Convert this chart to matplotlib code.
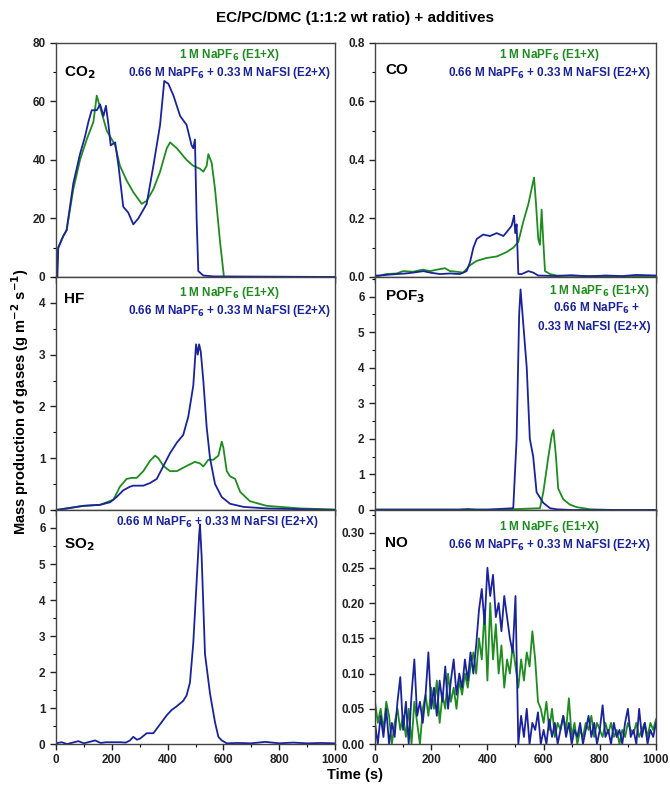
import numpy as np
import matplotlib
matplotlib.use('Agg')
import matplotlib.pyplot as plt
from matplotlib.ticker import MultipleLocator, FormatStrFormatter

plt.rcParams['font.family'] = ['Liberation Sans', 'DejaVu Sans']
plt.rcParams['font.weight'] = 'bold'

GREEN = '#1E8C1E'
BLUE = '#1A239C'

# ---- data (time in s, value) ----
co2_e1_t = [0, 8, 26, 38, 62, 86, 110, 134, 146, 158, 182, 212, 229, 253, 277, 307, 325, 349, 373, 397, 409, 433, 468, 492, 516, 528, 540, 546, 558, 570, 588, 602, 1000]
co2_e1_v = [0, 10, 14, 16, 30, 40, 47, 53, 62, 58, 50, 45, 38, 33, 29, 25, 26, 30, 36, 44, 46, 44, 40, 38, 37, 36, 38, 42, 39, 30, 12, 0, 0]
co2_e2_t = [0, 5, 8, 26, 38, 62, 86, 104, 116, 128, 146, 158, 170, 179, 188, 196, 212, 224, 241, 259, 277, 295, 325, 349, 373, 388, 403, 421, 445, 468, 486, 492, 498, 504, 510, 528, 564, 1000]
co2_e2_v = [0, 0, 10, 14, 16, 32, 42, 48, 53, 57, 57, 59, 55, 58.5, 52, 45, 46, 38, 24, 22, 18, 20, 25, 38, 52, 67, 66, 62, 55, 52, 45, 44, 47, 20, 2, 0.5, 0.2, 0]

co_e1_t = [0, 18, 40, 77, 100, 136, 170, 196, 220, 249, 267, 290, 314, 338, 362, 397, 433, 468, 492, 510, 528, 546, 557, 566, 573, 581, 587, 593, 599, 605, 623, 646, 700, 800, 900, 1000]
co_e1_v = [0.0, 0.005, 0.01, 0.012, 0.02, 0.018, 0.025, 0.02, 0.025, 0.03, 0.02, 0.018, 0.015, 0.04, 0.055, 0.065, 0.07, 0.085, 0.1, 0.12, 0.19, 0.25, 0.3, 0.34, 0.25, 0.13, 0.11, 0.23, 0.12, 0.02, 0.01, 0.005, 0.004, 0.003, 0.002, 0.002]
co_e2_t = [0, 18, 50, 77, 110, 136, 172, 196, 231, 267, 302, 326, 338, 350, 362, 385, 409, 433, 457, 474, 486, 490, 495, 499, 504, 510, 522, 546, 563, 581, 650, 700, 760, 820, 880, 930, 1000]
co_e2_v = [0.005, 0.005, 0.008, 0.01, 0.012, 0.015, 0.02, 0.015, 0.01, 0.012, 0.01, 0.02, 0.05, 0.1, 0.13, 0.145, 0.14, 0.15, 0.14, 0.16, 0.175, 0.19, 0.21, 0.15, 0.18, 0.01, 0.01, 0.02, 0.015, 0.005, 0.003, 0.006, 0.002, 0.005, 0.003, 0.007, 0.005]

hf_e1_t = [0, 38, 98, 158, 206, 229, 253, 271, 289, 313, 337, 355, 367, 385, 409, 433, 468, 498, 516, 528, 546, 564, 582, 594, 600, 612, 624, 642, 660, 695, 755, 875, 1000]
hf_e1_v = [0, 0.03, 0.08, 0.1, 0.2, 0.45, 0.6, 0.62, 0.62, 0.75, 0.95, 1.05, 1.0, 0.85, 0.75, 0.75, 0.85, 0.93, 0.9, 0.84, 0.97, 0.97, 1.05, 1.32, 1.2, 0.75, 0.65, 0.6, 0.35, 0.17, 0.08, 0.03, 0.01]
hf_e2_t = [0, 38, 98, 158, 194, 217, 241, 265, 277, 313, 337, 361, 385, 409, 433, 456, 474, 492, 502, 508, 513, 519, 528, 540, 552, 570, 594, 624, 672, 755, 1000]
hf_e2_v = [0, 0.03, 0.08, 0.1, 0.15, 0.25, 0.38, 0.45, 0.47, 0.47, 0.52, 0.6, 0.85, 1.1, 1.3, 1.45, 1.8, 2.4, 3.2, 3.0, 3.2, 3.05, 2.5, 1.6, 1.0, 0.5, 0.25, 0.12, 0.06, 0.03, 0.0]

pof3_e1_t = [0, 100, 200, 300, 330, 360, 450, 587, 599, 617, 629, 635, 644, 652, 670, 694, 718, 765, 850, 1000]
pof3_e1_v = [0.01, 0.01, 0.01, 0.01, 0.03, 0.01, 0.01, 0.05, 0.5, 1.5, 2.1, 2.25, 1.5, 0.6, 0.3, 0.15, 0.08, 0.02, 0.0, 0.0]
pof3_e2_t = [0, 100, 200, 300, 400, 492, 504, 513, 518, 525, 540, 551, 563, 575, 599, 623, 646, 700, 1000]
pof3_e2_v = [0.01, 0.01, 0.01, 0.01, 0.01, 0.05, 2.0, 5.5, 6.2, 5.5, 4.0, 2.0, 1.5, 0.5, 0.2, 0.05, 0.02, 0.0, 0.0]

so2_t = [0, 20, 40, 60, 80, 100, 120, 140, 160, 180, 200, 229, 250, 265, 277, 290, 301, 325, 349, 373, 397, 415, 433, 456, 468, 480, 492, 504, 513, 516, 522, 534, 552, 570, 582, 594, 612, 650, 700, 750, 800, 850, 900, 950, 1000]
so2_v = [0.02, 0.05, 0.0, 0.04, 0.08, 0.02, 0.06, 0.1, 0.03, 0.05, 0.05, 0.05, 0.04, 0.1, 0.2, 0.12, 0.15, 0.3, 0.3, 0.55, 0.8, 0.95, 1.05, 1.2, 1.35, 1.7, 2.8, 4.5, 5.8, 6.1, 5.2, 2.5, 1.4, 0.6, 0.2, 0.1, 0.02, 0.03, 0.02, 0.06, 0.02, 0.04, 0.02, 0.03, 0.02]

no_t = list(range(0, 1001, 10))
no_e1_v = [0.06, 0.03, 0.05, 0.02, 0.06, 0.04, 0.0, 0.03, 0.05, 0.02, 0.04, 0.01, 0.05, 0.0, 0.06, 0.03, 0.0, 0.05, 0.07, 0.04,
           0.08, 0.05, 0.09, 0.03, 0.07, 0.05, 0.1, 0.06, 0.08, 0.05, 0.09, 0.07, 0.1, 0.08, 0.11, 0.13, 0.1, 0.15, 0.12, 0.19,
           0.09, 0.2, 0.12, 0.17, 0.1, 0.14, 0.08, 0.12, 0.1, 0.14, 0.11, 0.08, 0.12, 0.09, 0.13, 0.11, 0.16, 0.12, 0.06, 0.05,
           0.03, 0.06, 0.02, 0.05, 0.01, 0.03, 0.02, 0.04, 0.02, 0.065, 0.01, 0.03, 0.0, 0.02, 0.01, 0.03, 0.02, 0.04, 0.01, 0.03,
           0.02, 0.01, 0.03, 0.015, 0.03, 0.01, 0.02, 0.0, 0.02, 0.01, 0.03, 0.02, 0.015, 0.03, 0.01, 0.02, 0.03, 0.01, 0.03, 0.02,
           0.035]
no_e2_v = [0.03, 0.0, 0.04, 0.01, 0.05, 0.0, 0.03, 0.01, 0.06, 0.095, 0.02, 0.06, 0.0, 0.07, 0.12, 0.04, 0.06, 0.03, 0.07, 0.13,
           0.05, 0.08, 0.04, 0.09, 0.06, 0.11, 0.05, 0.09, 0.12, 0.07, 0.1, 0.08, 0.12, 0.09, 0.13, 0.1, 0.14, 0.19, 0.22, 0.17,
           0.25, 0.21, 0.24, 0.18, 0.2, 0.16, 0.21, 0.18, 0.15, 0.13, 0.21, 0.0, 0.04, 0.01, 0.05, 0.0, 0.03, 0.02, 0.045, 0.0,
           0.02, 0.0, 0.035, 0.01, 0.03, 0.0, 0.02, 0.04, 0.01, 0.03, 0.0, 0.02, 0.01, 0.03, 0.0, 0.02, 0.04, 0.01, 0.03, 0.0,
           0.02, 0.055, 0.01, 0.02, 0.0, 0.03, 0.01, 0.02, 0.0, 0.03, 0.05, 0.01, 0.02, 0.0, 0.05, 0.01, 0.03, 0.0, 0.02, 0.01,
           0.03]

lbl_e1 = '1 M NaPF$_\\mathbf{6}$ (E1+X)'
lbl_e2 = '0.66 M NaPF$_\\mathbf{6}$ + 0.33 M NaFSI (E2+X)'

fig = plt.figure(figsize=(6.7, 7.88), dpi=100)
lx, lw = 0.0836, 0.4164
rx, rw = 0.5597, 0.4194
rows = [(0.6485, 0.297), (0.3528, 0.2957), (0.0558, 0.297)]

axs = {}
axs['co2'] = fig.add_axes([lx, rows[0][0], lw, rows[0][1]])
axs['co'] = fig.add_axes([rx, rows[0][0], rw, rows[0][1]])
axs['hf'] = fig.add_axes([lx, rows[1][0], lw, rows[1][1]])
axs['pof3'] = fig.add_axes([rx, rows[1][0], rw, rows[1][1]])
axs['so2'] = fig.add_axes([lx, rows[2][0], lw, rows[2][1]])
axs['no'] = fig.add_axes([rx, rows[2][0], rw, rows[2][1]])

lw_line = 1.3
axs['co2'].plot(co2_e1_t, co2_e1_v, color=GREEN, lw=lw_line)
axs['co2'].plot(co2_e2_t, co2_e2_v, color=BLUE, lw=lw_line)
axs['co'].plot(co_e1_t, co_e1_v, color=GREEN, lw=lw_line)
axs['co'].plot(co_e2_t, co_e2_v, color=BLUE, lw=lw_line)
axs['hf'].plot(hf_e1_t, hf_e1_v, color=GREEN, lw=lw_line)
axs['hf'].plot(hf_e2_t, hf_e2_v, color=BLUE, lw=lw_line)
axs['pof3'].plot(pof3_e1_t, pof3_e1_v, color=GREEN, lw=lw_line)
axs['pof3'].plot(pof3_e2_t, pof3_e2_v, color=BLUE, lw=lw_line)
axs['so2'].plot(so2_t, so2_v, color=BLUE, lw=lw_line)
axs['no'].plot(no_t, no_e1_v, color=GREEN, lw=lw_line)
axs['no'].plot(no_t, no_e2_v, color=BLUE, lw=lw_line)

# limits, ticks, formats
settings = {
    'co2': (80, 20, 10, '%d'),
    'co': (0.8, 0.2, 0.1, '%.1f'),
    'hf': (4.5, 1, 0.5, '%d'),
    'pof3': (6.55, 1, 0.5, '%d'),
    'so2': (6.5, 1, 0.5, '%d'),
    'no': (0.332, 0.05, 0.025, '%.2f'),
}
for key, ax in axs.items():
    top, maj, mnr, fmt = settings[key]
    ax.set_xlim(0, 1000)
    ax.set_ylim(0, top)
    ax.xaxis.set_major_locator(MultipleLocator(200))
    ax.xaxis.set_minor_locator(MultipleLocator(100))
    ax.yaxis.set_major_locator(MultipleLocator(maj))
    ax.yaxis.set_minor_locator(MultipleLocator(mnr))
    ax.yaxis.set_major_formatter(FormatStrFormatter(fmt))
    ax.tick_params(which='major', direction='out', length=4, width=1, labelsize=8.5, colors='#222222')
    ax.tick_params(which='minor', direction='out', length=2, width=0.8)
    for s in ax.spines.values():
        s.set_linewidth(1)
        s.set_color('#444444')
    for lab in ax.get_xticklabels() + ax.get_yticklabels():
        lab.set_fontweight('bold')
    if key not in ('so2', 'no'):
        ax.tick_params(labelbottom=False)

# gas names
gas_kw = dict(fontsize=11, fontweight='bold', va='center', ha='left')
axs['co2'].text(0.03, 0.872, 'CO$_\\mathbf{2}$', transform=axs['co2'].transAxes, **gas_kw)
axs['co'].text(0.036, 0.885, 'CO', transform=axs['co'].transAxes, **gas_kw)
axs['hf'].text(0.03, 0.905, 'HF', transform=axs['hf'].transAxes, **gas_kw)
axs['pof3'].text(0.036, 0.914, 'POF$_\\mathbf{3}$', transform=axs['pof3'].transAxes, **gas_kw)
axs['so2'].text(0.03, 0.85, 'SO$_\\mathbf{2}$', transform=axs['so2'].transAxes, **gas_kw)
axs['no'].text(0.036, 0.86, 'NO', transform=axs['no'].transAxes, **gas_kw)

# legends as text
leg_kw = dict(fontsize=8.5, fontweight='bold', ha='center', va='center')
for key, ye1, ye2 in [('co2', 0.949, 0.872), ('co', 0.949, 0.872), ('hf', 0.93, 0.854), ('no', 0.927, 0.85)]:
    ax = axs[key]
    ax.text(0.62, ye1, lbl_e1, color=GREEN, transform=ax.transAxes, **leg_kw)
    ax.text(0.62, ye2, lbl_e2, color=BLUE, transform=ax.transAxes, **leg_kw)
ax = axs['pof3']
ax.text(0.80, 0.94, lbl_e1, color=GREEN, transform=ax.transAxes, **leg_kw)
ax.text(0.79, 0.867, '0.66 M NaPF$_\\mathbf{6}$ +', color=BLUE, transform=ax.transAxes, **leg_kw)
ax.text(0.78, 0.785, '0.33 M NaFSI (E2+X)', color=BLUE, transform=ax.transAxes, **leg_kw)
ax = axs['so2']
ax.text(0.577, 0.949, lbl_e2, color=BLUE, transform=ax.transAxes, **leg_kw)

fig.text(0.53, 0.977, 'EC/PC/DMC (1:1:2 wt ratio) + additives', ha='center', va='center',
         fontsize=11, fontweight='bold')
fig.text(0.03, 0.49, 'Mass production of gases (g m$^{\\mathbf{-2}}$ s$^{\\mathbf{-1}}$)', rotation=90,
         ha='center', va='center', fontsize=10.5, fontweight='bold')
fig.text(0.53, 0.016, 'Time (s)', ha='center', va='center', fontsize=10.5, fontweight='bold')

fig.savefig('out.png', dpi=100)
